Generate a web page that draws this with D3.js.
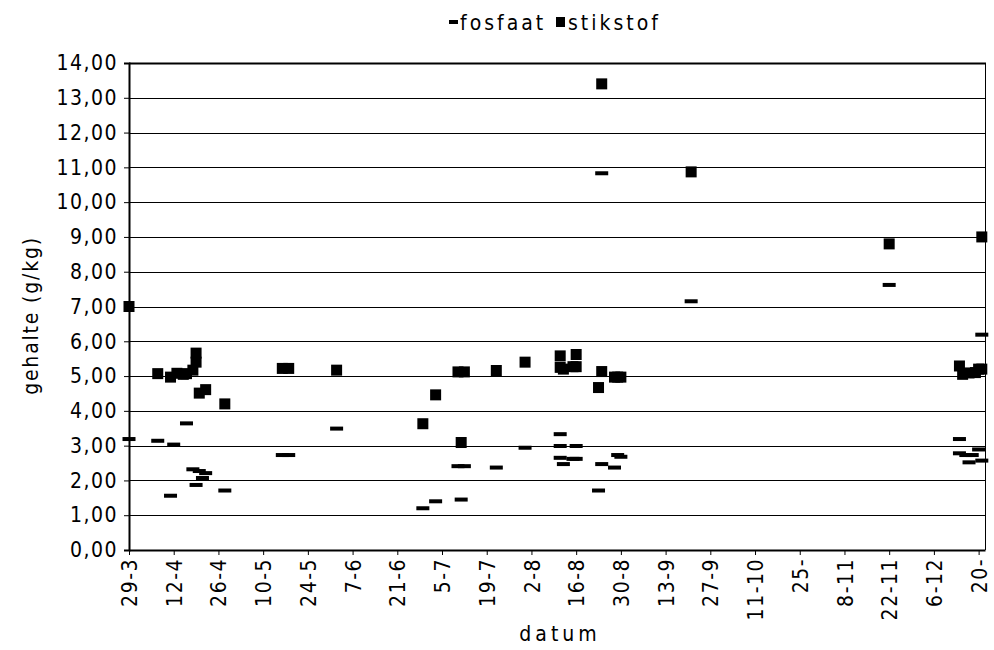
<!DOCTYPE html>
<html><head><meta charset="utf-8">
<script src="https://cdn.jsdelivr.net/npm/d3@7"></script>
<style>
body{margin:0;background:#fff}
text{font-family:"DejaVu Sans Condensed","Liberation Sans",sans-serif;fill:#000}
</style>
</head><body><svg id="c" width="994" height="650"></svg>
<script>
const fosfaatDates = ["29-3","7-4","11-4","12-4","16-4","18-4","20-4","19-4","21-4","22-4","28-4",
  "16-5","18-5","2-6","29-6","3-7","10-7","12-7","11-7","22-7","31-7",
  "11-8","11-8","11-8","12-8","15-8","16-8","16-8","23-8","24-8","24-8","28-8","29-8","30-8",
  "21-9","22-11","14-12","14-12","16-12","18-12","17-12","20-12","21-12","21-12"];
const fosfaatValues = [3.19,3.14,1.56,3.03,3.64,2.32,2.27,1.87,2.07,2.21,1.71,
  2.73,2.73,3.49,1.20,1.40,2.41,2.41,1.45,2.37,2.94,
  3.33,2.99,2.65,2.47,2.62,2.62,2.99,1.71,2.47,10.83,2.37,2.73,2.68,
  7.15,7.62,3.19,2.78,2.73,2.73,2.52,2.89,2.57,6.19];
const stikstofDates = ["29-3","7-4","11-4","13-4","15-4","16-4","18-4","19-4","19-4","20-4","22-4","28-4",
  "16-5","18-5","2-6","29-6","3-7","10-7","12-7","11-7","22-7","31-7",
  "11-8","11-8","12-8","15-8","16-8","16-8","23-8","24-8","24-8","28-8","29-8","30-8",
  "21-9","22-11","14-12","15-12","17-12","19-12","20-12","21-12","21-12"];
const stikstofValues = [7.00,5.07,4.97,5.08,5.05,5.07,5.17,5.40,5.66,4.51,4.61,4.20,
  5.22,5.22,5.17,3.63,4.46,5.12,5.12,3.09,5.16,5.40,
  5.58,5.25,5.20,5.27,5.62,5.27,4.67,5.13,13.40,4.97,4.97,4.97,
  10.87,8.80,5.29,5.05,5.09,5.10,5.20,5.20,9.00];
const xTickLabels = ["29-3","12-4","26-4","10-5","24-5","7-6","21-6","5-7","19-7","2-8","16-8","30-8",
  "13-9","27-9","11-10","25-","8-11","22-11","6-12","20-"];
const yTicks = [0,1,2,3,4,5,6,7,8,9,10,11,12,13,14];
const seriesNames = ["fosfaat","stikstof"];
const xStart = "29-3", xEnd = "22-12";

const parse = s => d3.utcParse("%d-%m-%Y")(s + "-2007");
const svg = d3.select("#c");
const L = 129, R = 985, T = 63, B = 550;
const x = d3.scaleUtc().domain([parse(xStart), parse(xEnd)]).range([L, R]);
const y = d3.scaleLinear().domain([0, 14]).range([B, T]);

// gridlines
svg.append("g").selectAll("line").data(yTicks.filter(d => d > 0)).join("line")
  .attr("x1", L).attr("x2", R).attr("y1", d => Math.round(y(d)) + 0.5).attr("y2", d => Math.round(y(d)) + 0.5)
  .attr("stroke", "#000").attr("stroke-width", 1);
// plot border
svg.append("line").attr("x1", R + 0.5).attr("x2", R + 0.5).attr("y1", T).attr("y2", B)
  .attr("stroke", "#000").attr("stroke-width", 1);
svg.append("line").attr("x1", L).attr("x2", R + 1).attr("y1", T + 0.5).attr("y2", T + 0.5)
  .attr("stroke", "#000").attr("stroke-width", 2);

// y axis
const yAxis = d3.axisLeft(y).tickValues(yTicks).tickSize(5).tickPadding(6)
  .tickFormat(d => d3.format(".2f")(d).replace(".", ","));
const gy = svg.append("g").attr("transform", `translate(${L},0)`).call(yAxis);
gy.select(".domain").attr("stroke-width", 2);
gy.selectAll("text").attr("font-size", 21).attr("letter-spacing", 1.5).style("font-family", null);

// x axis
const tickDates = xTickLabels.map((l, i) => d3.utcDay.offset(parse(xStart), 14 * i));
const xAxis = d3.axisBottom(x).tickValues(tickDates).tickSize(5).tickSizeOuter(0)
  .tickFormat((d, i) => xTickLabels[i]);
const gx = svg.append("g").attr("transform", `translate(0,${B})`).call(xAxis);
gx.select(".domain").attr("stroke-width", 2);
gx.selectAll("text").attr("font-size", 21).attr("letter-spacing", 1.5).attr("text-anchor", "end")
  .attr("transform", "rotate(-90)").attr("x", -8).attr("y", 0).attr("dy", "0.36em");
svg.selectAll(".tick text").attr("fill", "#000").style("font-family", null);
svg.selectAll(".tick line").attr("stroke", "#000");
svg.selectAll(".domain").attr("stroke", "#000");

// axis titles
svg.append("text").attr("x", (L + R) / 2 + 3).attr("y", 641).attr("text-anchor", "middle")
  .attr("font-size", 21).attr("letter-spacing", 4).text("datum");
svg.append("text").attr("transform", `translate(38,${(T + B) / 2 + 9}) rotate(-90)`).attr("text-anchor", "middle")
  .attr("font-size", 21).attr("letter-spacing", 1.8).text("gehalte (g/kg)");

// markers
const fos = fosfaatDates.map((d, i) => ({ d: parse(d), v: fosfaatValues[i] }));
const sti = stikstofDates.map((d, i) => ({ d: parse(d), v: stikstofValues[i] }));
svg.append("g").selectAll("rect").data(sti).join("rect")
  .attr("x", d => x(d.d) - 5.5).attr("y", d => y(d.v) - 5.5).attr("width", 11).attr("height", 11)
  .attr("fill", "#000");
svg.append("g").selectAll("rect").data(fos).join("rect")
  .attr("x", d => x(d.d) - 6.5).attr("y", d => y(d.v) - 2).attr("width", 13).attr("height", 4)
  .attr("fill", "#000");

// legend
const lg = svg.append("g");
lg.append("rect").attr("x", 449).attr("y", 20).attr("width", 9).attr("height", 4).attr("fill", "#000");
lg.append("text").attr("x", 460).attr("y", 30).attr("font-size", 21).attr("letter-spacing", 3).text(seriesNames[0]);
lg.append("rect").attr("x", 556).attr("y", 17).attr("width", 9).attr("height", 10).attr("fill", "#000");
lg.append("text").attr("x", 568).attr("y", 30).attr("font-size", 21).attr("letter-spacing", 3).text(seriesNames[1]);
</script>
</body></html>
